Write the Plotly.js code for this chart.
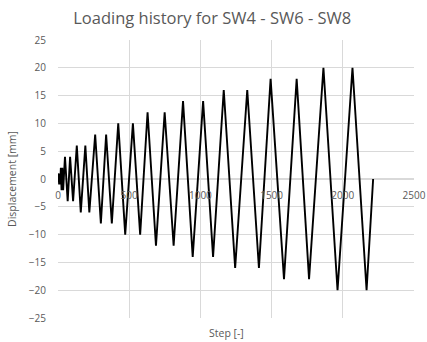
<!DOCTYPE html>
<html>
<head>
<meta charset="utf-8">
<script src="https://cdn.plot.ly/plotly-3.0.1.min.js"></script>
<style>html,body{margin:0;padding:0;background:#fff;}#chart{width:427px;height:342px;}</style>
</head>
<body>
<div id="chart"></div>
<script>
// Step numbers at each turning point of the loading history
var steps = [0, 4, 8, 12, 16, 20, 25, 30, 36,
  49, 68, 85, 106,
  132, 160, 192, 220,
  261, 301, 338, 378,
  423, 472, 526, 577,
  629, 688, 749, 812,
  878, 946, 1019, 1089,
  1164, 1244, 1329, 1411,
  1493, 1587, 1676, 1763,
  1864, 1963, 2068, 2167,
  2213];
// Displacement [mm] at those points
var displacement = [0, 1, -1, 1, -1, 2, -2, 2, -2,
  4, -4, 4, -4,
  6, -6, 6, -6,
  8, -8, 8, -8,
  10, -10, 10, -10,
  12, -12, 12, -12,
  14, -14, 14, -14,
  16, -16, 16, -16,
  18, -18, 18, -18,
  20, -20, 20, -20,
  0];

var gray = '#595959';
var fontFam = '"Open Sans", "Liberation Sans", sans-serif';

var trace = {
  x: steps, y: displacement, type: 'scatter', mode: 'lines',
  line: {color: '#000000', width: 1.9},
  hoverinfo: 'skip'
};

var layout = {
  width: 427, height: 342,
  margin: {l: 58, r: 13, t: 40, b: 24},
  paper_bgcolor: '#ffffff', plot_bgcolor: '#ffffff',
  showlegend: false,
  title: {text: 'Loading history for SW4 - SW6 - SW8', x: 0.497, xanchor: 'center', y: 0.947, yanchor: 'middle',
    font: {family: fontFam, size: 16.5, color: gray}},
  xaxis: {
    range: [0, 2500], dtick: 500, tick0: 0,
    showgrid: true, gridcolor: '#d9d9d9', gridwidth: 1.3,
    zeroline: false, showline: false,
    anchor: 'free', position: 0.5,
    ticks: '', ticklabelstandoff: 9,
    tickfont: {family: fontFam, size: 10, color: gray}
  },
  yaxis: {
    range: [-25, 25], dtick: 5, tick0: 0,
    showgrid: true, gridcolor: '#d9d9d9', gridwidth: 1.3,
    zeroline: true, zerolinecolor: '#d9d9d9', zerolinewidth: 1.3, showline: false,
    ticks: '', ticklabelstandoff: 11,
    tickfont: {family: fontFam, size: 10, color: gray},
    title: {text: 'Displacement [mm]', standoff: 10, font: {family: fontFam, size: 10.5, color: gray}}
  },
  annotations: [{
    text: 'Step [-]', xref: 'paper', yref: 'paper', x: 0.473, y: -0.054,
    xanchor: 'center', yanchor: 'middle', showarrow: false,
    font: {family: fontFam, size: 10.5, color: gray}
  }]
};

Plotly.newPlot('chart', [trace], layout, {staticPlot: true, displayModeBar: false});
</script>
</body>
</html>
